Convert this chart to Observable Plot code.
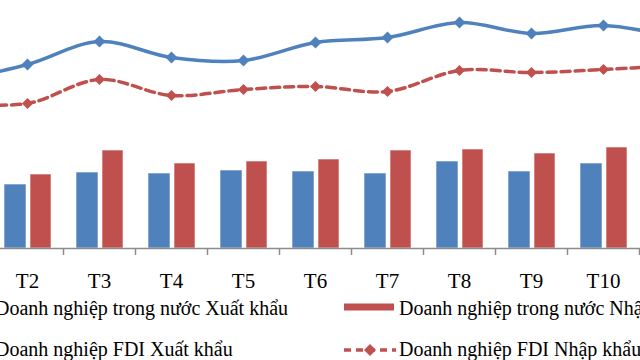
<!DOCTYPE html>
<html><head><meta charset="utf-8">
<script src="https://cdn.jsdelivr.net/npm/d3@7"></script>
<script src="https://cdn.jsdelivr.net/npm/@observablehq/plot@0.6"></script>
<style>
html,body{margin:0;padding:0;background:#fff;}
#wrap{position:relative;width:640px;height:360px;overflow:hidden;font-family:"Liberation Serif","Times New Roman",serif;background:#fff;}
#chart{position:absolute;left:-81px;top:0;width:792px;height:295px;}
#chart svg{max-width:none !important;width:792px;height:295px;}
.legtext{position:absolute;font-size:20px;line-height:20px;white-space:nowrap;color:#000;}
.legsw{position:absolute;overflow:visible;}
</style></head><body>
<div id="wrap"><div id="chart"></div></div>
<script>
const months = ["T1","T2","T3","T4","T5","T6","T7","T8","T9","T10","T11"];
const domesticExport = [3.4, 3.2, 3.8, 3.75, 3.9, 3.85, 3.75, 4.35, 3.85, 4.25, 4.3];
const domesticImport = [3.9, 3.7, 4.9, 4.25, 4.35, 4.45, 4.9, 4.95, 4.75, 5.05, 5.0];
const fdiExport = [8.4, 9.2, 10.35, 9.55, 9.4, 10.3, 10.55, 11.3, 10.75, 11.15, 10.55];
const fdiImport = [7.25, 7.25, 8.45, 7.65, 7.95, 8.1, 7.85, 8.9, 8.8, 8.95, 9.15];
const seriesNames = [
  "Doanh nghiệp trong nước Xuất khẩu",
  "Doanh nghiệp trong nước Nhập khẩu",
  "Doanh nghiệp FDI Xuất khẩu",
  "Doanh nghiệp FDI Nhập khẩu"
];
const BLUE = "#4F81BD", RED = "#C0504D";

const data = months.map((m, i) => ({
  month: m,
  domExp: domesticExport[i],
  domImp: domesticImport[i],
  fdiExp: fdiExport[i],
  fdiImp: fdiImport[i]
}));

const chart = Plot.plot({
  width: 792,
  height: 295,
  marginLeft: 0, marginRight: 0, marginTop: 0, marginBottom: 47,
  x: {type: "band", domain: months, padding: 0, label: null, axis: null},
  y: {domain: [0, 12.4], axis: null},
  style: {fontFamily: "'Liberation Serif','Times New Roman',serif", fontSize: "21px", color: "#000", background: "transparent", overflow: "visible", maxWidth: "none"},
  marks: [
    Plot.barY(data, {x: "month", y: "domExp", fill: BLUE, insetLeft: 13, insetRight: 37, stroke: "#fff", strokeOpacity: 0.6, strokeWidth: 1}),
    Plot.barY(data, {x: "month", y: "domImp", fill: RED, insetLeft: 39, insetRight: 12, stroke: "#fff", strokeOpacity: 0.6, strokeWidth: 1}),
    Plot.ruleY([0], {stroke: "#8c8c8c", strokeWidth: 1.5}),
    Plot.axisX({tickSize: 7, tickFormat: () => "", dx: -36, stroke: "#8c8c8c", strokeWidth: 1.5, label: null}),
    Plot.axisX({tickSize: 0, tickPadding: 25, label: null, fontSize: 21, fill: "#000"}),
    Plot.line(data, {x: "month", y: "fdiImp", stroke: RED, strokeWidth: 3.5, strokeDasharray: "9,5", curve: "catmull-rom"}),
    Plot.dot(data, {x: "month", y: "fdiImp", symbol: "diamond2", r: 5, fill: RED, stroke: "none"}),
    Plot.line(data, {x: "month", y: "fdiExp", stroke: BLUE, strokeWidth: 3.5, curve: "catmull-rom"}),
    Plot.dot(data, {x: "month", y: "fdiExp", symbol: "diamond2", r: 5.4, fill: BLUE, stroke: "none"})
  ]
});
document.getElementById("chart").appendChild(chart);

// Legend (HTML below the SVG)
const wrap = d3.select("#wrap");
const legendItems = [
  {name: seriesNames[0], kind: "bar", color: BLUE, col: 0, row: 0},
  {name: seriesNames[1], kind: "bar", color: RED, col: 1, row: 0},
  {name: seriesNames[2], kind: "line", color: BLUE, col: 0, row: 1},
  {name: seriesNames[3], kind: "dash", color: RED, col: 1, row: 1}
];
const colX = [-60, 344];
const rowTop = [298, 339];
const rowMid = [306.5, 350];
legendItems.forEach(it => {
  const x0 = colX[it.col];
  const sw = wrap.append("svg").attr("class", "legsw")
    .attr("width", 54).attr("height", 16)
    .style("left", x0 + "px").style("top", (rowMid[it.row] - 8) + "px");
  if (it.kind === "bar") {
    sw.append("rect").attr("x", 0).attr("y", 4.5).attr("width", 50).attr("height", 7).attr("fill", it.color);
  } else {
    sw.append("line").attr("x1", 0).attr("x2", 52).attr("y1", 8).attr("y2", 8)
      .attr("stroke", it.color).attr("stroke-width", 3.5)
      .attr("stroke-dasharray", it.kind === "dash" ? "7,5" : null);
    sw.append("path").attr("d", "M26,2L32,8L26,14L20,8Z").attr("fill", it.color);
  }
  wrap.append("div").attr("class", "legtext")
    .style("left", (x0 + 55) + "px").style("top", rowTop[it.row] + "px")
    .text(it.name);
});
</script>
</body></html>
